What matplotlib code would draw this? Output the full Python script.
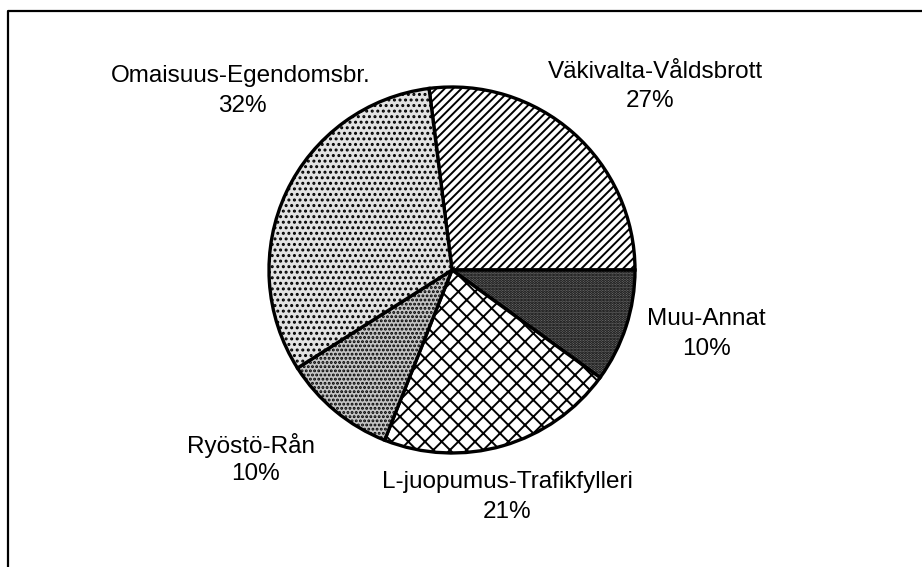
import numpy as np
import matplotlib
matplotlib.use("Agg")
import matplotlib.pyplot as plt

# crime shares (%), drawn clockwise starting with Väkivalta
labels = ["Väkivalta-Våldsbrott", "Muu-Annat", "L-juopumus-Trafikfylleri",
          "Ryöstö-Rån", "Omaisuus-Egendomsbr."]
shares = [27, 10, 21, 10, 32]
faces = ["white", "#707070", "white", "#c4c4c4", "#e2e2e2"]
hatches = ["////", "......", "xx", "....", "..."]

plt.rcParams["font.family"] = ["Liberation Sans", "DejaVu Sans"]
plt.rcParams["hatch.linewidth"] = 1.4

fig = plt.figure(figsize=(9.22, 5.67), dpi=100)
ax = fig.add_axes([0, 0, 1, 1])

start = shares[0] / 100 * 360
wedges, _ = ax.pie(shares, center=(452, 297), radius=183, startangle=start,
                   counterclock=False, colors=faces,
                   wedgeprops=dict(edgecolor="black", linewidth=2.4))
for w, h in zip(wedges, hatches):
    w.set_hatch(h)

# pie() resets the limits, so set pixel-like coordinates afterwards
ax.set_xlim(0, 922)
ax.set_ylim(0, 567)
ax.set_aspect("equal")
ax.axis("off")

# page frame (scan is cropped: only top and left edges visible)
ax.plot([8, 8, 922], [0, 556, 556], color="black", lw=1.6)

# labels: name line and percentage line, baselines in pixels from top
name_pos = [(655, 78), (706, 325), (507, 488), (251, 453), (241, 82)]
pct_pos = [(650, 107), (706, 355), (507, 518), (255, 480), (242, 112)]
for name, pct, (x1, y1), (x2, y2) in zip(labels, shares, name_pos, pct_pos):
    ax.text(x1, 567 - y1, name, ha="center", va="baseline", fontsize=17.5)
    ax.text(x2, 567 - y2, f"{pct}%", ha="center", va="baseline", fontsize=17.5)

fig.savefig("out.png", dpi=100)
